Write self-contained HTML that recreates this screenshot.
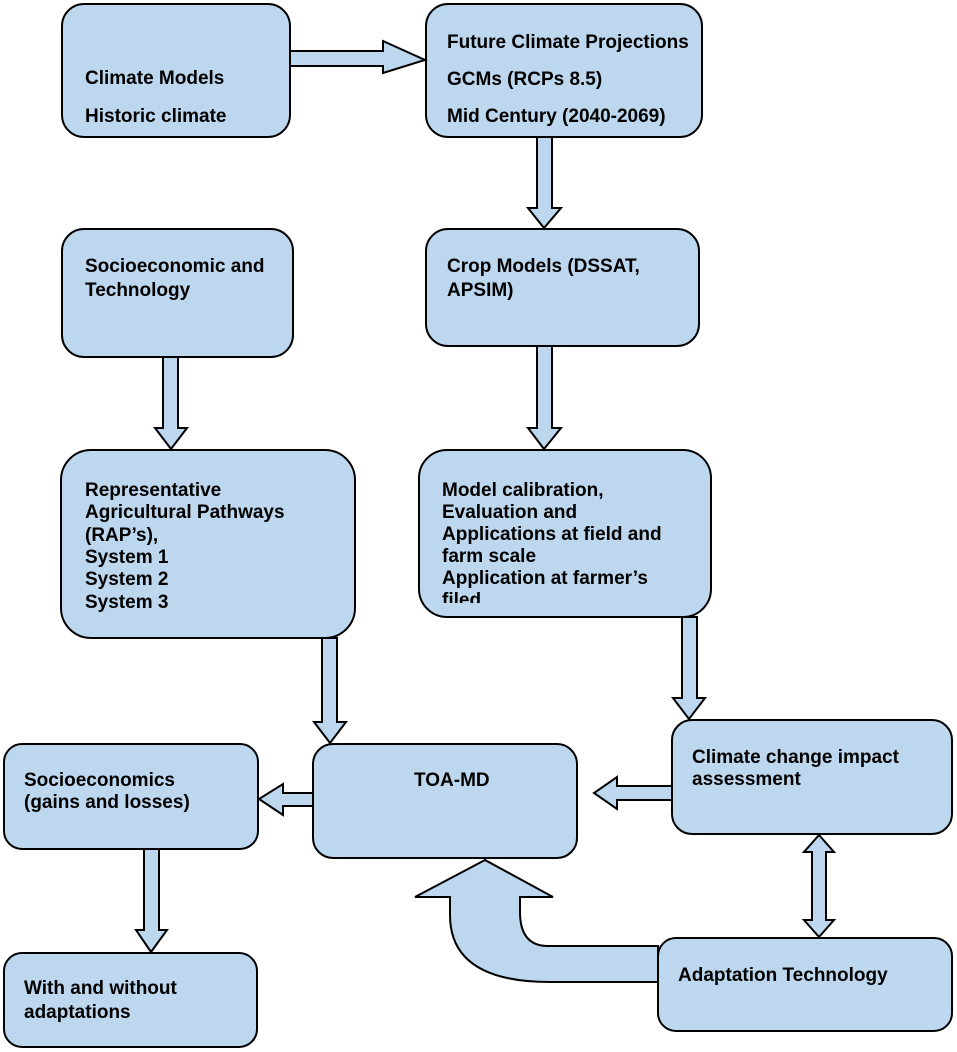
<!DOCTYPE html>
<html><head><meta charset="utf-8"><style>
html,body{margin:0;padding:0;background:#fff;}
svg{display:block}
text{font-family:"Liberation Sans",Arial,sans-serif;font-weight:bold;font-size:19px;fill:#000}
</style></head><body>
<svg width="957" height="1052" viewBox="0 0 957 1052">
<g fill="#bdd7ee" stroke="#000" stroke-width="2">
<rect x="62" y="4" width="228" height="133" rx="22"/>
<rect x="426" y="4" width="276" height="133" rx="22"/>
<rect x="62" y="229" width="231" height="128" rx="22"/>
<rect x="426" y="229" width="273" height="117" rx="22"/>
<rect x="61" y="450" width="294" height="188" rx="30"/>
<rect x="419" y="450" width="292" height="167" rx="28"/>
<rect x="4" y="744" width="254" height="105" rx="18"/>
<rect x="313" y="744" width="264" height="114" rx="20"/>
<rect x="672" y="720" width="280" height="114" rx="20"/>
<rect x="4" y="953" width="253" height="94" rx="18"/>
<rect x="658" y="938" width="294" height="93" rx="18"/>
<path d="M290 51 H383 V41 L425 60 L383 73 V66 H290 Z"/>
<path d="M537 137 V208 H528 L544 228 L561 208 H552 V137 Z"/>
<path d="M163 357 V428 H155 L171 449 L187 428 H178 V357 Z"/>
<path d="M537 346 V428 H528 L544 449 L561 428 H552 V346 Z"/>
<path d="M322 638 V722 H314 L330 743 L346 722 H337 V638 Z"/>
<path d="M682 617 V698 H673 L689 719 L705 698 H697 V617 Z"/>
<path d="M313 793 H283 V784 L259 799 L283 815 V806 H313 Z"/>
<path d="M672 786 H617 V777 L594 793 L617 809 V800 H672 Z"/>
<path d="M144 849 V930 H136 L151 952 L167 930 H159 V849 Z"/>
<path d="M812 852 H804 L819 835 L834 852 H826 V920 H834 L819 937 L804 920 H812 Z"/>
<path d="M658 946 H548 Q520 946 520 912 V897 H553 L485 860 L415 897 H450 V915 Q450 982 550 982 H658 Z"/>
</g>
<text x="85" y="84">Climate Models</text>
<text x="85" y="122">Historic climate</text>
<text x="447" y="48">Future Climate Projections</text>
<text x="447" y="85">GCMs (RCPs 8.5)</text>
<text x="447" y="122">Mid Century (2040-2069)</text>
<text x="85" y="272">Socioeconomic and</text>
<text x="85" y="296">Technology</text>
<text x="447" y="272">Crop Models (DSSAT,</text>
<text x="447" y="296">APSIM)</text>
<text x="85" y="496">Representative</text>
<text x="85" y="518">Agricultural Pathways</text>
<text x="85" y="541">(RAP’s),</text>
<text x="85" y="563">System 1</text>
<text x="85" y="585">System 2</text>
<text x="85" y="608">System 3</text>
<svg x="419" y="450" width="292" height="153" overflow="hidden">
<text x="23" y="46">Model calibration,</text>
<text x="23" y="68">Evaluation and</text>
<text x="23" y="90">Applications at field and</text>
<text x="23" y="112">farm scale</text>
<text x="23" y="134">Application at farmer’s</text>
<text x="23" y="156">filed</text>
</svg>
<text x="24" y="786">Socioeconomics</text>
<text x="24" y="808">(gains and losses)</text>
<text x="414" y="786">TOA-MD</text>
<text x="692" y="763">Climate change impact</text>
<text x="692" y="785">assessment</text>
<text x="24" y="994">With and without</text>
<text x="24" y="1018">adaptations</text>
<text x="678" y="981">Adaptation Technology</text>
</svg>
</body></html>
